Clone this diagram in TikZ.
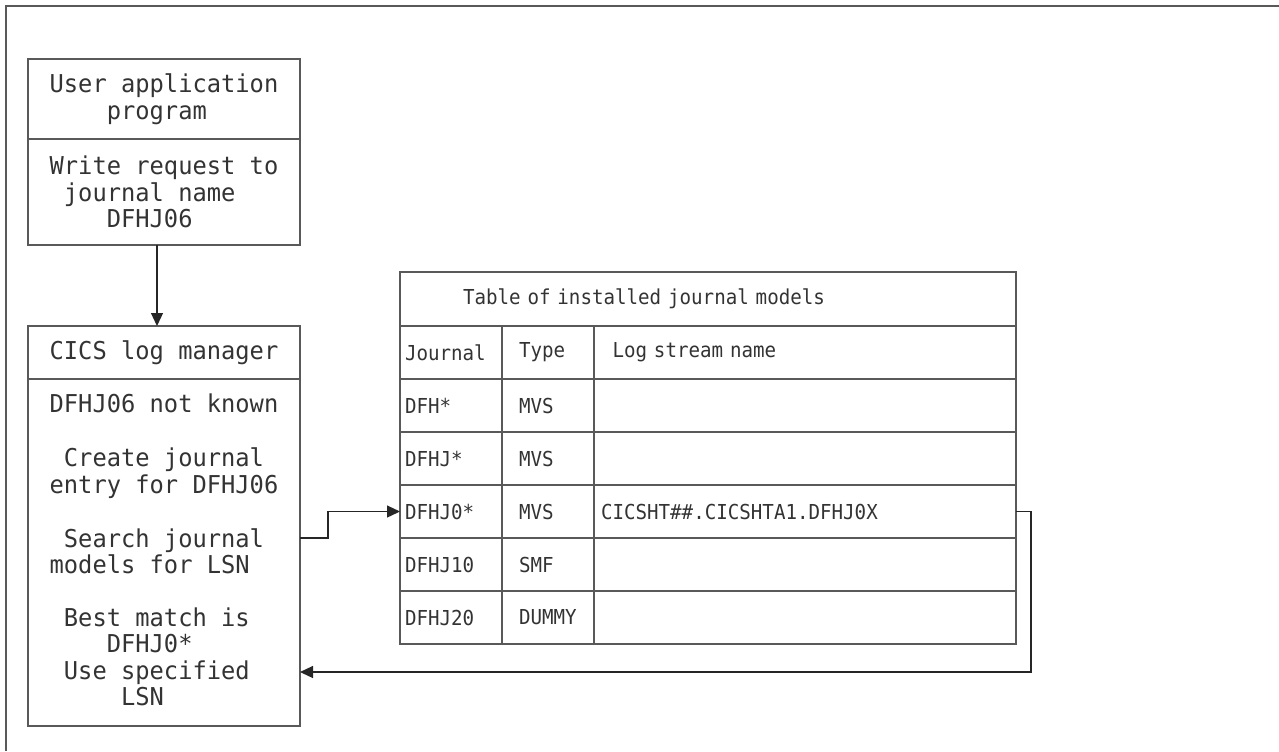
\documentclass[tikz,border=0pt]{standalone}
\usepackage{fontspec}
\usepackage{tikz}
\usetikzlibrary{positioning,arrows.meta}

\newfontfamily\cicsmono[FakeStretch=0.965]{DejaVu Sans Mono}
\newfontfamily\cicstable[FakeStretch=0.93]{DejaVu Sans Mono}
\newcommand{\boxfont}{\cicsmono\fontsize{12.3}{13.25}\selectfont}
\newcommand{\tblfont}{\cicstable\fontsize{10.3}{11}\selectfont}
\definecolor{rule}{gray}{0.35}
\definecolor{ink}{gray}{0.2}

\tikzset{
  box/.style={draw=rule, line width=0.75pt, outer sep=0pt, inner sep=0pt,
    anchor=north west, minimum width=136pt, align=center, font=\boxfont, text=ink},
  words/.style={inner sep=0pt, align=center, font=\boxfont, text=ink},
  cell/.style={draw=rule, line width=0.75pt, outer sep=0pt, inner ysep=0pt,
    minimum height=26.5pt, align=left, font=\tblfont, text=ink},
  jcol/.style={cell, inner xsep=2.5pt, text width=46pt},
  tcol/.style={cell, inner xsep=8.5pt, text width=29pt},
  lcol/.style={cell, inner xsep=3.5pt, text width=204pt},
  link/.style={draw=black!85, line width=0.6pt, -{Triangle[length=6.5pt,width=6pt]}},
}

\begin{document}
\begin{tikzpicture}[x=0.5pt,y=-0.5pt]
\useasboundingbox (0,0) rectangle (1279,751);
% Outer frame
\draw[rule, line width=0.75pt] (6,751) -- (6,6) -- (1279,6);

% User application program
\node[box, minimum height=40pt] (app) at (28,59) {User application\\program\hphantom{x}};
\node[box, minimum height=53pt] (req) at (app.south west) {Write request to\\journal name\hphantom{xx}\\DFHJ06\hphantom{xx}};

% CICS log manager
\node[box, minimum height=26.5pt] (logtop) at (28,326) {CICS log manager};
\node[box, minimum height=173.5pt] (logbody) at (logtop.south west) {};
\node[words] (unknown) at (164,403) {DFHJ06 not known};
\node[words] (create) at (164,473) {Create journal\\entry for DFHJ06};
\node[words] (search) at (164,551) {Search journal\\models for LSN\hphantom{xx}};
\node[words] (best) at (164,657) {Best match is\hphantom{x}\\DFHJ0*\hphantom{xx}\\Use specified\hphantom{x}\\LSN\hphantom{xxx}};

% Table of installed journal models
\node[cell, anchor=north west, minimum height=27pt, inner xsep=31.5pt, text width=245pt] (tbl) at (400,272) {Table of installed journal models};
\node[jcol, anchor=north west] (hj) at (tbl.south west) {Journal};
\node[tcol, right=0pt of hj] (ht) {Type};
\node[lcol, right=0pt of ht] (hl) {\hphantom{x}Log stream name};

\node[jcol, below=0pt of hj] (r1a) {DFH*};
\node[tcol, right=0pt of r1a] (r1b) {MVS};
\node[lcol, right=0pt of r1b] (r1c) {};

\node[jcol, below=0pt of r1a] (r2a) {DFHJ*};
\node[tcol, right=0pt of r2a] (r2b) {MVS};
\node[lcol, right=0pt of r2b] (r2c) {};

\node[jcol, below=0pt of r2a] (r3a) {DFHJ0*};
\node[tcol, right=0pt of r3a] (r3b) {MVS};
\node[lcol, right=0pt of r3b] (r3c) {CICSHT\#\#.CICSHTA1.DFHJ0X};

\node[jcol, below=0pt of r3a] (r4a) {DFHJ10};
\node[tcol, right=0pt of r4a] (r4b) {SMF};
\node[lcol, right=0pt of r4b] (r4c) {};

\node[jcol, below=0pt of r4a] (r5a) {DFHJ20};
\node[tcol, right=0pt of r5a] (r5b) {DUMMY};
\node[lcol, right=0pt of r5b] (r5c) {};

% Connectors
\draw[link] ([xshift=-3.5pt]req.south) -- ([xshift=-3.5pt]logtop.north);
\draw[link] (logbody.east |- r3a.south) -- ++(28,0) |- (r3a.west);
\coordinate (back) at (1031,672);
\draw[link] (r3c.east) -| (back) -- (back -| logbody.east);
\end{tikzpicture}
\end{document}
